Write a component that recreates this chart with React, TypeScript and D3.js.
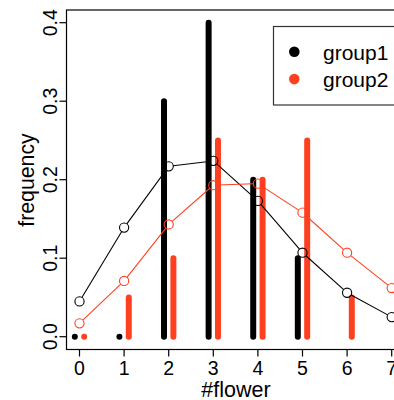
import React from "react";
import * as d3 from "d3";

const flowerCounts = [0, 1, 2, 3, 4, 5, 6, 7];
const group1Freq = [0, 0, 0.3, 0.4, 0.2, 0.1];
const group2Freq = [0, 0.05, 0.1, 0.25, 0.2, 0.25, 0.05];
const group1Fit = [0.045, 0.139, 0.217, 0.224, 0.173, 0.107, 0.056, 0.025];
const group2Fit = [0.017, 0.071, 0.143, 0.193, 0.195, 0.158, 0.107, 0.062];
const yTicks = [0, 0.1, 0.2, 0.3, 0.4];
const seriesNames = ["group1", "group2"];
const seriesColors = ["#000000", "#ff4020"];

const W = 394, H = 400;
const box = { left: 66.5, top: 10, right: 405.5, bottom: 349.5 };
const FONT = "'Liberation Sans', Arial, Helvetica, sans-serif";

export default function App() {
  const x = d3.scaleLinear().domain([0, 7]).range([79.5, 391.7]);
  const y = d3.scaleLinear().domain([0, 0.4]).range([336.7, 22.7]);
  const off = 0.105;
  const r = 4.6;

  const fitLine = (vals: number[], color: string, key: string) => {
    const pts = vals.map((v, i) => [x(flowerCounts[i]), y(v)] as [number, number]);
    const segs: React.ReactNode[] = [];
    for (let i = 0; i < pts.length - 1; i++) {
      const [x1, y1] = pts[i];
      const [x2, y2] = pts[i + 1];
      const dx = x2 - x1, dy = y2 - y1;
      const len = Math.hypot(dx, dy);
      if (len <= 2 * r) continue;
      const ux = dx / len, uy = dy / len;
      segs.push(
        <line key={`${key}s${i}`} x1={x1 + ux * r} y1={y1 + uy * r} x2={x2 - ux * r} y2={y2 - uy * r}
          stroke={color} strokeWidth={1.1} />
      );
    }
    return (
      <g key={key}>
        {segs}
        {pts.map(([px, py], i) => (
          <circle key={`${key}c${i}`} cx={px} cy={py} r={r} fill="none" stroke={color} strokeWidth={1.1} />
        ))}
      </g>
    );
  };

  return (
    <svg width={W} height={H} style={{ position: "absolute", left: 0, top: 0, display: "block" }}
      fontFamily={FONT}>
      <rect x={0} y={0} width={W} height={H} fill="#fff" />
      {group1Freq.map((v, i) => (
        <line key={`b1${i}`} x1={x(flowerCounts[i] - off)} x2={x(flowerCounts[i] - off)}
          y1={y(0)} y2={y(v)} stroke={seriesColors[0]} strokeWidth={6} strokeLinecap="round" />
      ))}
      {group2Freq.map((v, i) => (
        <line key={`b2${i}`} x1={x(flowerCounts[i] + off)} x2={x(flowerCounts[i] + off)}
          y1={y(0)} y2={y(v)} stroke={seriesColors[1]} strokeWidth={6} strokeLinecap="round" />
      ))}
      {fitLine(group1Fit, seriesColors[0], "f1")}
      {fitLine(group2Fit, seriesColors[1], "f2")}
      <rect x={box.left} y={box.top} width={box.right - box.left} height={box.bottom - box.top}
        fill="none" stroke="#000" strokeWidth={1.2} />
      {yTicks.map((t) => (
        <g key={`yt${t}`}>
          <line x1={box.left} x2={box.left - 7} y1={y(t)} y2={y(t)} stroke="#000" strokeWidth={1.2} />
          <text transform={`translate(56.5,${y(t)}) rotate(-90)`} textAnchor="middle" fontSize={19.5}>
            {d3.format(".1f")(t)}
          </text>
        </g>
      ))}
      {flowerCounts.map((c) => (
        <g key={`xt${c}`}>
          <line x1={x(c)} x2={x(c)} y1={box.bottom} y2={box.bottom + 7} stroke="#000" strokeWidth={1.2} />
          <text x={x(c)} y={375} textAnchor="middle" fontSize={19.5}>{c}</text>
        </g>
      ))}
      <text x={236} y={396.5} textAnchor="middle" fontSize={21.5}>#flower</text>
      <text transform={`translate(34.3,180) rotate(-90)`} textAnchor="middle" fontSize={21.3}>frequency</text>
      <rect x={273.5} y={26.5} width={140} height={78.5} fill="#fff" stroke="#333" strokeWidth={1.2} />
      {seriesNames.map((n, i) => (
        <g key={`lg${n}`}>
          <circle cx={294.3} cy={51.7 + i * 27.4} r={5.3} fill={seriesColors[i]} />
          <text x={323} y={59.5 + i * 27.4} fontSize={21}>{n}</text>
        </g>
      ))}
    </svg>
  );
}
